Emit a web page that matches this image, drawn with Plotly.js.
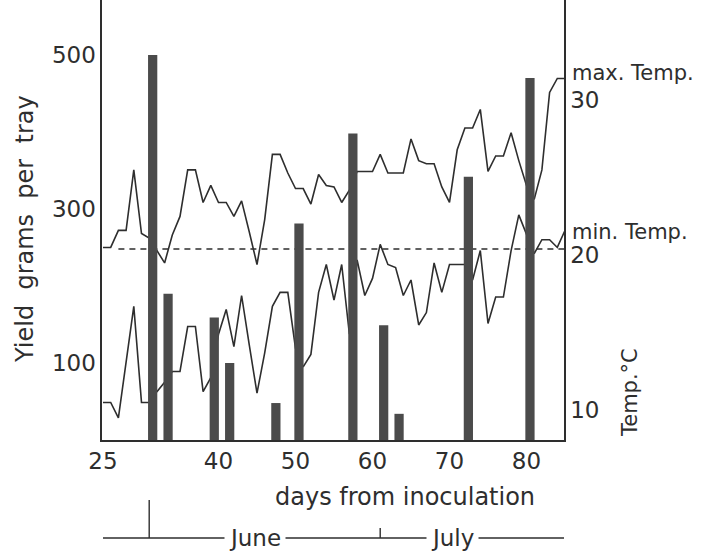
<!DOCTYPE html>
<html>
<head>
<meta charset="utf-8">
<script src="https://cdn.plot.ly/plotly-3.0.1.min.js"></script>
<style>
html, body { margin: 0; padding: 0; background: #ffffff; }
#chart { width: 702px; height: 551px; }
</style>
</head>
<body>
<div id="chart"></div>
<script>
// ---- data ----
const days = [25,26,27,28,29,30,31,32,33,34,35,36,37,38,39,40,41,42,43,44,45,46,47,48,49,50,51,52,53,54,55,56,57,58,59,60,61,62,63,64,65,66,67,68,69,70,71,72,73,74,75,76,77,78,79,80,81,82,83,84,85];
const maxTemp = [20.1,20.1,21.2,21.2,25.1,21.0,20.7,19.9,19.1,20.9,22.1,25.1,25.1,23.0,24.1,23.0,23.0,22.1,23.1,21.1,19.0,21.9,26.1,26.1,24.9,23.9,23.9,22.9,24.8,24.1,24.0,23.0,23.8,25.0,25.0,25.0,26.1,24.9,24.9,24.9,27.1,25.7,25.5,25.5,24.0,23.0,26.4,27.8,27.8,29.0,25.0,26.0,26.0,27.5,25.7,24.1,23.2,25.1,30.1,31.0,31.0];
const minTemp = [10.1,10.1,9.1,12.7,16.3,10.1,10.1,10.8,11.4,12.1,12.1,15.0,15.0,10.8,11.7,14.5,16.1,13.7,17.0,13.8,10.7,13.3,16.3,17.2,17.2,13.6,12.4,13.2,17.2,19.0,16.7,19.0,14.5,19.3,17.0,18.1,20.3,19.0,18.8,17.0,18.0,15.1,15.9,19.1,17.2,19.0,19.0,19.0,18.0,19.9,15.2,16.9,16.9,19.9,22.2,21.0,19.7,20.6,20.6,20.1,21.2];
const harvestDays = [31,33,39,41,47,50,57,61,63,72,80];
const yieldGrams = [500,190,159,100,48,281,398,149,34,342,470];
const xTickVals = [25,40,50,60,70,80];
const yieldTickVals = [100,300,500];
const tempTickVals = [10,20,30];
const referenceTemp = 20;
const monthStartDays = [31,61];
const monthNames = ['June','July'];

// ---- layout helpers ----
const FONT = 'DejaVu Sans, Liberation Sans, sans-serif';
const INK = '#2e2e2e';
const xMin = 24.87, xMax = 84.87;

const traces = [
  {
    type: 'scatter', mode: 'lines', x: days, y: maxTemp, yaxis: 'y',
    line: { color: INK, width: 1.6 }, hoverinfo: 'skip', showlegend: false
  },
  {
    type: 'scatter', mode: 'lines', x: days, y: minTemp, yaxis: 'y',
    line: { color: INK, width: 1.6 }, hoverinfo: 'skip', showlegend: false
  },
  {
    type: 'bar', x: harvestDays, y: yieldGrams, yaxis: 'y2',
    width: 1.2, offset: -0.15,
    marker: { color: '#4b4b4b', line: { width: 0 } },
    hoverinfo: 'skip', showlegend: false
  }
];

const layout = {
  width: 702, height: 551,
  margin: { l: 102, r: 138, t: 0, b: 111, pad: 0 },
  paper_bgcolor: '#ffffff', plot_bgcolor: '#ffffff',
  font: { family: FONT, size: 23, color: INK },
  showlegend: false,
  xaxis: {
    range: [xMin, xMax], tickvals: xTickVals, ticks: '',
    showline: true, linecolor: INK, linewidth: 1.6,
    showgrid: false, zeroline: false,
    tickfont: { family: FONT, size: 23, color: INK }
  },
  yaxis: {
    side: 'right', range: [7.68, 36.06], tickvals: tempTickVals, ticks: '',
    showline: true, linecolor: INK, linewidth: 1.6,
    showgrid: false, zeroline: false, ticklabelshift: 6,
    tickfont: { family: FONT, size: 23, color: INK }
  },
  yaxis2: {
    overlaying: 'y', side: 'left', range: [0, 571.4], tickvals: yieldTickVals, ticks: '',
    showline: true, linecolor: INK, linewidth: 1.6,
    showgrid: false, zeroline: false,
    tickfont: { family: FONT, size: 23, color: INK }
  },
  shapes: [
    { type: 'line', layer: 'below', xref: 'x', yref: 'y', x0: 27, x1: xMax, y0: referenceTemp, y1: referenceTemp,
      line: { color: INK, width: 1.6, dash: '6px,5px' } },
    { type: 'line', xref: 'x', yref: 'paper', x0: 25, x1: xMax, y0: -0.2227, y1: -0.2227,
      line: { color: INK, width: 1.4 } },
    { type: 'line', xref: 'x', yref: 'paper', x0: monthStartDays[0], x1: monthStartDays[0], y0: -0.1364, y1: -0.2227,
      line: { color: INK, width: 1.4 } },
    { type: 'line', xref: 'x', yref: 'paper', x0: monthStartDays[1], x1: monthStartDays[1], y0: -0.20, y1: -0.2227,
      line: { color: INK, width: 1.4 } }
  ],
  annotations: [
    { text: 'days from inoculation', xref: 'paper', yref: 'paper', x: 0.656, y: -0.1295,
      xanchor: 'center', yanchor: 'middle', showarrow: false, font: { family: FONT, size: 24, color: INK } },
    { text: 'Yield  grams  per  tray', xref: 'paper', yref: 'paper', x: -0.1667, y: 0.4795, textangle: -90,
      xanchor: 'center', yanchor: 'middle', showarrow: false, font: { family: FONT, size: 24, color: INK } },
    { text: 'Temp.°C', xref: 'paper', yref: 'paper', x: 1.1429, y: 0.1068, textangle: -90,
      xanchor: 'center', yanchor: 'middle', showarrow: false, font: { family: FONT, size: 21, color: INK } },
    { text: 'max. Temp.', xref: 'paper', yref: 'y', x: 1, xshift: 6, y: 31.35,
      xanchor: 'left', yanchor: 'middle', showarrow: false, font: { family: FONT, size: 21, color: INK } },
    { text: 'min. Temp.', xref: 'paper', yref: 'y', x: 1, xshift: 6, y: 21.1,
      xanchor: 'left', yanchor: 'middle', showarrow: false, font: { family: FONT, size: 21, color: INK } },
    { text: monthNames[0], xref: 'x', yref: 'paper', x: 44.7, y: -0.2227,
      xanchor: 'center', yanchor: 'middle', showarrow: false, bgcolor: '#ffffff', borderpad: 4,
      font: { family: FONT, size: 23, color: INK } },
    { text: monthNames[1], xref: 'x', yref: 'paper', x: 70.45, y: -0.2227,
      xanchor: 'center', yanchor: 'middle', showarrow: false, bgcolor: '#ffffff', borderpad: 4,
      font: { family: FONT, size: 23, color: INK } }
  ]
};

Plotly.newPlot('chart', traces, layout, { staticPlot: true, displayModeBar: false });
</script>
</body>
</html>
